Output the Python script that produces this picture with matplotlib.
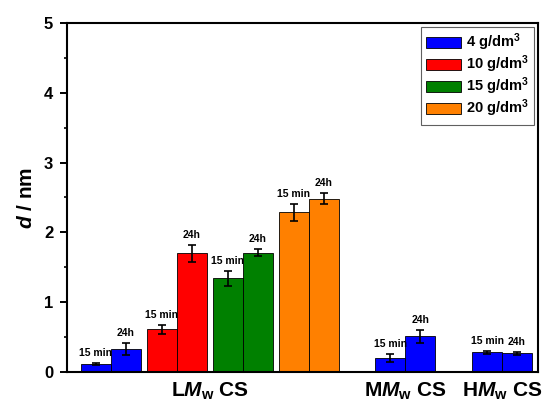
import numpy as np
import matplotlib
matplotlib.use('Agg')
import matplotlib.pyplot as plt

plt.rcParams['font.family'] = 'Liberation Sans'
plt.rcParams['font.weight'] = 'bold'
plt.rcParams['mathtext.fontset'] = 'custom'
plt.rcParams['mathtext.rm'] = 'Liberation Sans:bold'
plt.rcParams['mathtext.it'] = 'Liberation Sans:bold:italic'
plt.rcParams['mathtext.bf'] = 'Liberation Sans:bold'

# данные: (15 min, 24h) для каждой серии
series = ['4 g/dm$^3$', '10 g/dm$^3$', '15 g/dm$^3$', '20 g/dm$^3$']
colors = ['#0000ff', '#ff0000', '#008000', '#ff8000']
lm_vals = [[0.12, 0.33], [0.61, 1.70], [1.34, 1.71], [2.29, 2.48]]
lm_errs = [[0.015, 0.09], [0.07, 0.12], [0.11, 0.05], [0.12, 0.08]]
mm_vals = [0.20, 0.51]
mm_errs = [0.055, 0.09]
hm_vals = [0.285, 0.27]
hm_errs = [0.02, 0.02]
time_labels = ['15 min', '24h']
groups = ['L$M_{\\rm w}$ CS', 'M$M_{\\rm w}$ CS', 'H$M_{\\rm w}$ CS']

fig = plt.figure(figsize=(5.48, 4.03), dpi=100)
ax = fig.add_axes([0.1223, 0.0769, 0.8595, 0.8661])

w = 1.0
ekw = dict(ecolor='k', elinewidth=1.2, capsize=3, capthick=1.2)


def pair(x0, vals, errs, color, label=None):
    xs = [x0 - w / 2, x0 + w / 2]
    ax.bar(xs, vals, w, yerr=errs, color=color, edgecolor='k', linewidth=0.6,
           error_kw=ekw, label=label)
    for x, v, e, t in zip(xs, vals, errs, time_labels):
        ax.text(x, v + e + 0.07, t, ha='center', va='bottom', fontsize=7.5,
                fontweight='bold')


lm_centers = 1.45 + 2.2 * np.arange(4)
for c, v, e, col, s in zip(lm_centers, lm_vals, lm_errs, colors, series):
    pair(c, v, e, col, s)
pair(11.28, mm_vals, mm_errs, colors[0])
pair(14.5, hm_vals, hm_errs, colors[0])

ax.set_xlim(0, 15.7)
ax.set_ylim(0, 5)
ax.set_xticks([4.78, 11.28, 14.5])
ax.set_xticklabels(groups, fontsize=15, fontweight='bold')
ax.tick_params(axis='x', length=0, pad=6)
ax.set_yticks(range(6))
ax.set_yticks(np.arange(0.5, 5, 1), minor=True)
ax.tick_params(axis='y', direction='out', length=5, width=1.4, labelsize=12, pad=5)
ax.tick_params(axis='y', which='minor', direction='out', length=2.5, width=1.2)
for lab in ax.get_yticklabels():
    lab.set_fontweight('bold')
for sp in ax.spines.values():
    sp.set_linewidth(1.5)
ax.set_ylabel('$d$ / nm', fontsize=15, fontweight='bold', labelpad=6)

leg = ax.legend(loc='upper right', fontsize=10.5, frameon=True, fancybox=False,
                edgecolor='#606060', framealpha=1, borderaxespad=0.25,
                handlelength=2.4, handleheight=0.8, labelspacing=0.03,
                handletextpad=0.35, borderpad=0.35)
leg.get_frame().set_linewidth(0.8)
for t in leg.get_texts():
    t.set_fontweight('bold')

fig.savefig('out.png', dpi=100)
